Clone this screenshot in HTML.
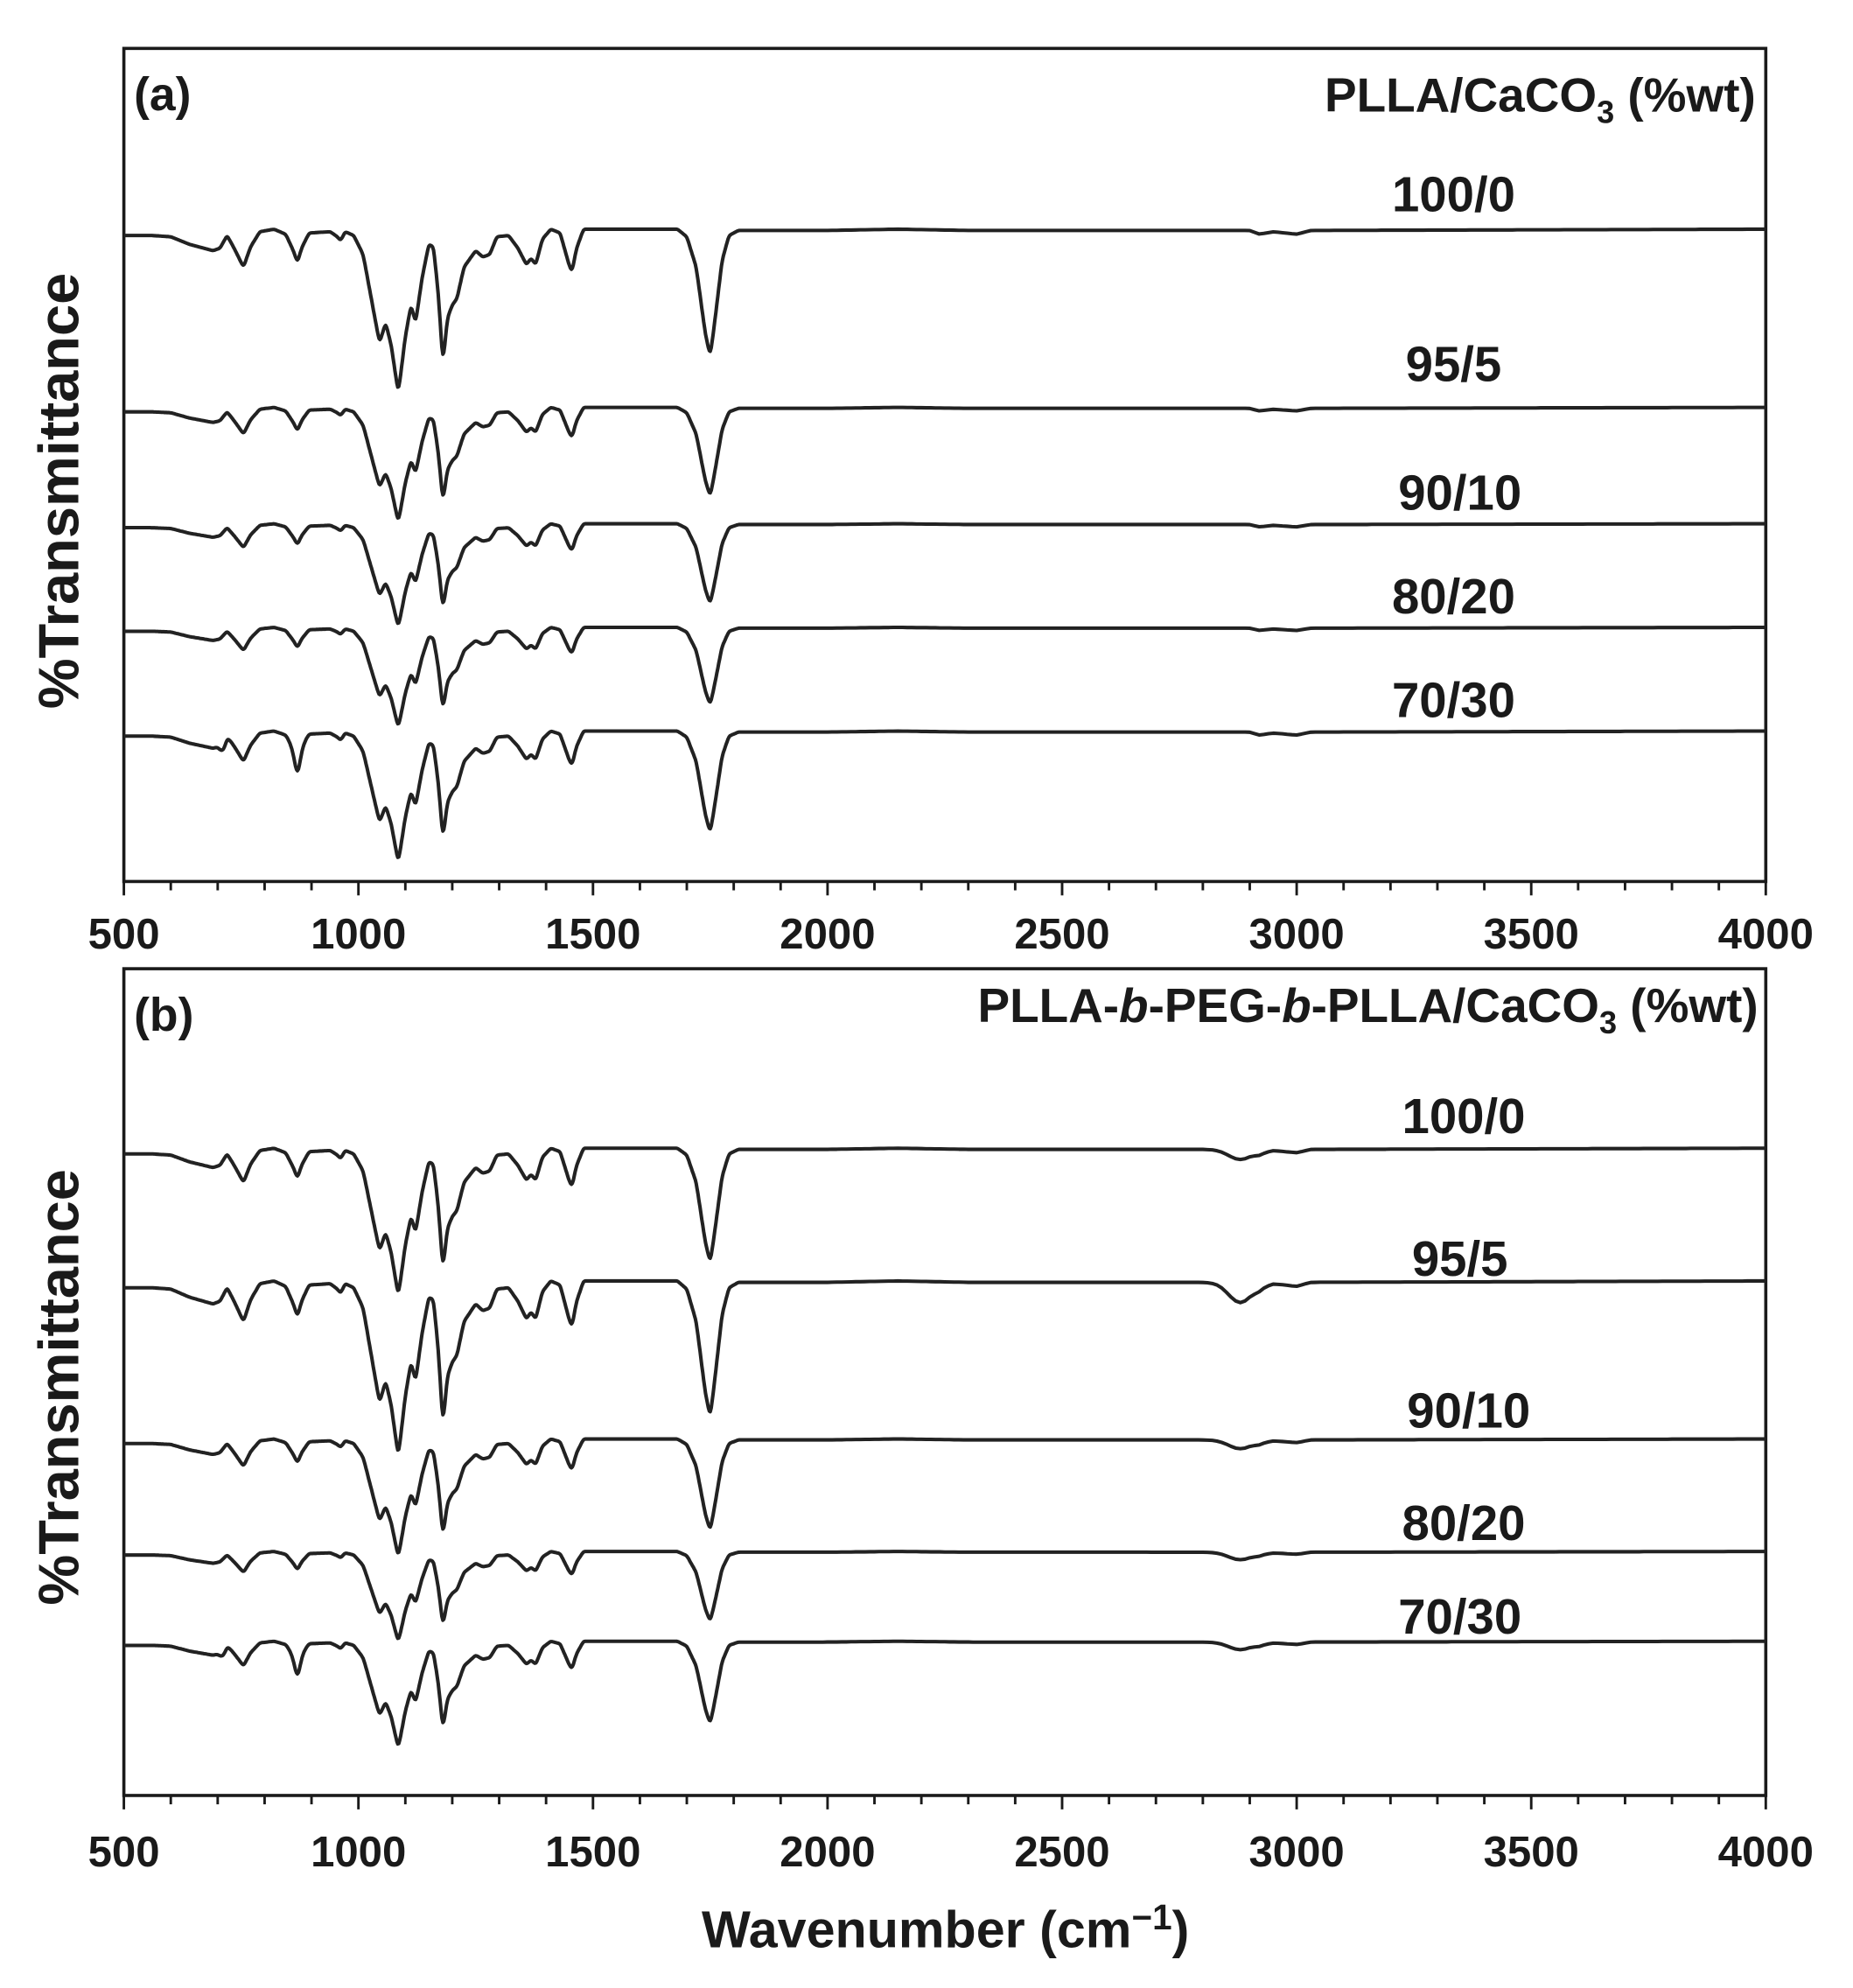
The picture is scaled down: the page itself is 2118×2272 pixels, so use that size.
<!DOCTYPE html>
<html><head><meta charset="utf-8"><style>
html,body{margin:0;padding:0;background:#fff}
svg{display:block}
text{font-family:"Liberation Sans",Arial,sans-serif;font-weight:bold;fill:#1a1a1a}
</style></head><body>
<svg id="s" width="2118" height="2272" viewBox="0 0 1466 1572" xmlns="http://www.w3.org/2000/svg">
<g id="g"></g>
<text x="106" y="87" font-size="37">(a)</text>
<text x="106" y="815" font-size="37">(b)</text>
<text x="1389" y="88" font-size="38" text-anchor="end">PLLA/CaCO<tspan font-size="25" dy="9">3</tspan><tspan dy="-9"> (%wt)</tspan></text>
<text x="1391" y="808" font-size="38" text-anchor="end">PLLA-<tspan font-style="italic">b</tspan>-PEG-<tspan font-style="italic">b</tspan>-PLLA/CaCO<tspan font-size="25" dy="9">3</tspan><tspan dy="-9"> (%wt)</tspan></text>
<g font-size="39" text-anchor="middle">
<text x="1150" y="167">100/0</text>
<text x="1150" y="301">95/5</text>
<text x="1155" y="403">90/10</text>
<text x="1150" y="485">80/20</text>
<text x="1150" y="567">70/30</text>
<text x="1158" y="896">100/0</text>
<text x="1155" y="1009">95/5</text>
<text x="1162" y="1129">90/10</text>
<text x="1158" y="1218">80/20</text>
<text x="1155" y="1292">70/30</text>
</g>
<g font-size="34" text-anchor="middle" id="tl"></g>
<text x="748" y="1540" font-size="41" text-anchor="middle">Wavenumber (cm<tspan font-size="28" dy="-14">−1</tspan><tspan dy="14">)</tspan></text>
<text transform="translate(62,388) rotate(-90)" font-size="45" text-anchor="middle">%Transmittance</text>
<text transform="translate(62,1097) rotate(-90)" font-size="45" text-anchor="middle">%Transmittance</text>
</svg>
<script>
var NS="http://www.w3.org/2000/svg",g=document.getElementById('g'),tl=document.getElementById('tl');
function X(w){return 98+(w-500)*1299/3500;}
function el(n,a,p){var e=document.createElementNS(NS,n);for(var k in a)e.setAttribute(k,a[k]);(p||g).appendChild(e);return e;}
var panels=[[38,697,738],[766,1420,1464]];
panels.forEach(function(p){
  el('rect',{x:98,y:p[0],width:1299,height:p[1]-p[0],fill:'none',stroke:'#1a1a1a','stroke-width':2.5});
  for(var w=500;w<=4000;w+=100){var maj=w%500==0;
    el('line',{x1:X(w),x2:X(w),y1:p[1],y2:p[1]+(maj?11:7),stroke:'#1a1a1a','stroke-width':2});
    if(maj){var t=el('text',{x:X(w),y:p[2]+12},tl);t.textContent=w;}
  }
});
var K=[[500,5],[560,5],[600,6],[640,12],[690,17],[705,15],[720,5],[735,15],[755,30],[770,14],[790,2],[820,0],[845,4],[860,16],[870,26],[880,14],[895,3],[940,2],[955,6],[962,9],[972,2],[990,5],[1010,20],[1030,60],[1045,90],[1058,74],[1070,92],[1085,130],[1100,85],[1112,60],[1122,74],[1135,40],[1150,12],[1160,14],[1170,50],[1180,106],[1190,70],[1200,60],[1210,55],[1225,30],[1250,17],[1265,22],[1280,20],[1295,6],[1320,5],[1340,15],[1358,28],[1368,23],[1378,28],[1392,8],[1410,0],[1430,3],[1448,27],[1455,34],[1465,15],[1480,0],[1680,0],[1700,6],[1720,30],[1740,84],[1750,100],[1760,72],[1775,25],[1790,5],[1810,1],[2000,1],[2150,0],[2300,1],[2900,1],[2920,4],[2950,2],[3000,4],[3030,1],[4000,0]];
function base(w){for(var i=1;i<K.length;i++){if(w<=K[i][0]){var a=K[i-1],b=K[i],t=(w-a[0])/(b[0]-a[0]);return a[1]+t*(b[1]-a[1]);}}return 0;}
function sm(w){var s=0,n=0;for(var d=-4;d<=4;d+=2){var wt=5-Math.abs(d);s+=wt*base(Math.min(4000,Math.max(500,w+d)));n+=wt;}return s/n;}
function gs(w,c,s){return Math.exp(-(w-c)*(w-c)/(2*s*s));}
var S=[[181,1,0,0,0],[322,0.7,0,0,0],[414,0.63,0,0,0],[496,0.61,0,0,0],[578,0.8,12,0,6],
[908,0.9,0,8,0],[1013,1.07,0,16,0],[1138,0.72,0,7,0],[1227,0.55,0,6,0],[1298,0.65,10,6,4]];
S.forEach(function(s){var d='';
  for(var w=500;w<=4000;w+=(w<1850?2:10)){
    var y=s[0]+s[1]*sm(w)+s[2]*gs(w,870,7)+s[3]*gs(w,2880,25)+s[4]*gs(w,712,6);
    d+=(d?'L':'M')+X(w).toFixed(1)+' '+y.toFixed(1);}
  el('path',{d:d,fill:'none',stroke:'#222','stroke-width':2.8,'stroke-linejoin':'round'});
});
</script>
</body></html>
